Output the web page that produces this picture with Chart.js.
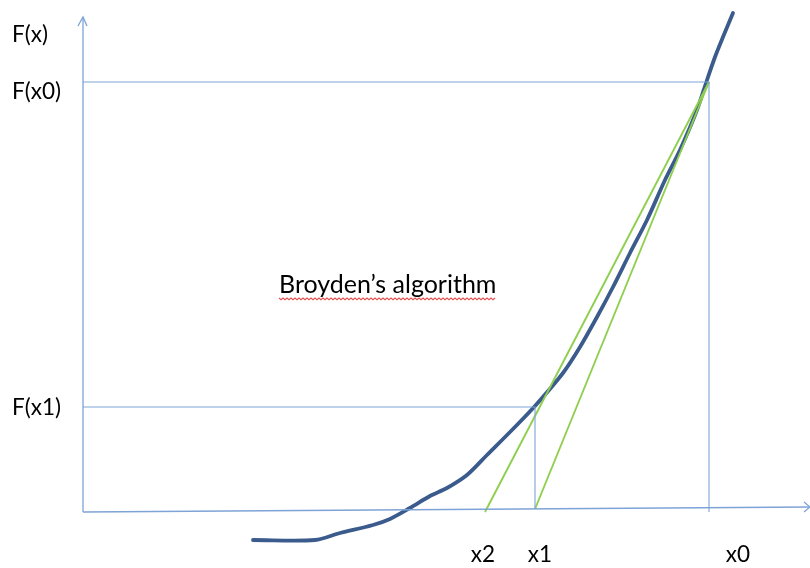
<!DOCTYPE html>
<html>
<head>
<meta charset="utf-8">
<script src="https://cdn.jsdelivr.net/npm/chart.js@4/dist/chart.umd.min.js"></script>
<style>
  html, body { margin: 0; padding: 0; background: #fff; }
  #wrap { width: 810px; height: 568px; position: relative; }
</style>
</head>
<body>
<div id="wrap"><canvas id="broyden"></canvas></div>
<script>
// curve F(x) (x right of the F axis, y above the x axis)
const curveX = [1.70, 2.32, 2.57, 2.90, 3.07, 3.27, 3.47, 3.64, 3.84, 4.04, 4.30, 4.52, 4.80, 4.97, 5.14, 5.30, 5.47, 5.64, 5.82, 5.97, 6.14, 6.24, 6.32, 6.40, 6.50];
const curveY = [-0.28, -0.28, -0.21, -0.13, -0.07, 0.04, 0.16, 0.24, 0.37, 0.57, 0.83, 1.06, 1.39, 1.65, 1.95, 2.25, 2.59, 2.92, 3.32, 3.62, 4.02, 4.32, 4.55, 4.75, 4.99];

// iterates
const iterNames = ['x0', 'x1', 'x2'];
const iterX = [6.26, 4.52, 4.02];
const iterF = [4.30, 1.05, 0];

// axis extents
const yAxisTop = 4.95;
const xAxisEnd = 7.27;
const xAxisRise = 0.05;

// label text
const yTickLabels = ['F(x)', 'F(x0)', 'F(x1)'];
const yTickValues = [4.77, 4.20, 1.04];
const xTickLabels = ['x2', 'x1', 'x0'];
const xTickValues = [4.00, 4.57, 6.55];
const titleText = 'Broyden\u2019s algorithm';
const titleAt = [1.96, 2.27];

const AXIS = '#7ea3d6';
const CURVE = '#3b5b8c';
const GREEN = '#8fcf4f';

function pts(xs, ys) { return xs.map((x, i) => ({ x: x, y: ys[i] })); }

function seg(data, color, width) {
    return {
        data: data,
        showLine: true,
        borderColor: color,
        borderWidth: width,
        pointRadius: 0,
        fill: false,
        tension: 0
    };
}

// text labels + the spell-check squiggle
const labelPlugin = {
    id: 'labels',
    afterDatasetsDraw(chart) {
        const ctx = chart.ctx;
        const sx = chart.scales.x, sy = chart.scales.y;
        ctx.save();
        ctx.fillStyle = '#000';
        ctx.font = '22.5px Lato, "Open Sans", sans-serif';
        ctx.textBaseline = 'middle';

        ctx.textAlign = 'left';
        yTickLabels.forEach((t, i) => {
            ctx.fillText(t, 12, sy.getPixelForValue(yTickValues[i]));
        });

        ctx.textAlign = 'center';
        xTickLabels.forEach((t, i) => {
            ctx.fillText(t, sx.getPixelForValue(xTickValues[i]), sy.getPixelForValue(-0.43));
        });

        ctx.font = '25px Lato, "Open Sans", sans-serif';
        ctx.textAlign = 'left';
        const tx = sx.getPixelForValue(titleAt[0]);
        const ty = sy.getPixelForValue(titleAt[1]);
        ctx.fillText(titleText, tx, ty);
        const w = ctx.measureText(titleText).width;

        // wavy red underline
        ctx.strokeStyle = '#e25555';
        ctx.lineWidth = 1.2;
        ctx.beginPath();
        const base = ty + 13;
        for (let x = 0; x <= w; x += 2) {
            const yy = base + ((x / 2) % 2 === 0 ? 0 : 1.8);
            if (x === 0) ctx.moveTo(tx + x, yy); else ctx.lineTo(tx + x, yy);
        }
        ctx.stroke();
        ctx.restore();
    }
};

const datasets = [
    // axes
    seg([{ x: 0, y: 0 }, { x: 0, y: yAxisTop }], AXIS, 1.3),
    seg([{ x: -0.05, y: yAxisTop - 0.09 }, { x: 0, y: yAxisTop }, { x: 0.04, y: yAxisTop - 0.09 }], AXIS, 1.3),
    seg([{ x: 0, y: 0 }, { x: xAxisEnd, y: xAxisRise }], AXIS, 1.3),
    seg([{ x: xAxisEnd - 0.06, y: xAxisRise + 0.05 }, { x: xAxisEnd, y: xAxisRise }, { x: xAxisEnd - 0.06, y: xAxisRise - 0.05 }], AXIS, 1.3),
    // guide lines to F(x0) and F(x1)
    seg([{ x: 0, y: iterF[0] }, { x: iterX[0], y: iterF[0] }, { x: iterX[0], y: 0 }], AXIS, 1.1),
    seg([{ x: 0, y: iterF[1] }, { x: iterX[1], y: iterF[1] }, { x: iterX[1], y: 0.03 }], AXIS, 1.1),
    // secants
    seg([{ x: iterX[0], y: iterF[0] }, { x: iterX[1], y: 0.03 }], GREEN, 1.9),
    seg([{ x: iterX[0], y: iterF[0] }, { x: iterX[2], y: iterF[2] }], GREEN, 1.9),
    // the function
    Object.assign(seg(pts(curveX, curveY), CURVE, 3.8), { tension: 0.3, borderCapStyle: 'round', borderJoinStyle: 'round' })
];

new Chart(document.getElementById('broyden'), {
    type: 'scatter',
    data: { datasets: datasets },
    options: {
        responsive: true,
        maintainAspectRatio: false,
        animation: false,
        layout: { padding: 0 },
        plugins: { legend: { display: false }, tooltip: { enabled: false } },
        scales: {
            x: { type: 'linear', min: -0.83, max: 7.27, display: false },
            y: { type: 'linear', min: -0.56, max: 5.12, display: false }
        }
    },
    plugins: [labelPlugin]
});
</script>
</body>
</html>
